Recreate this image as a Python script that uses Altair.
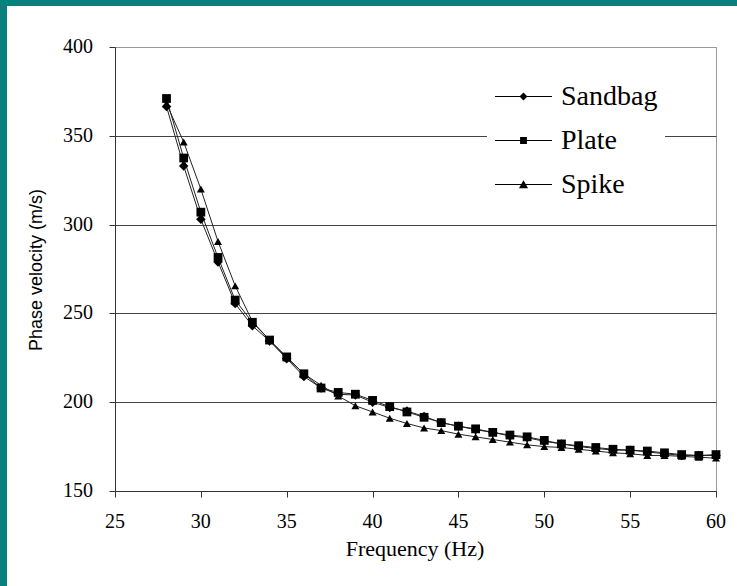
import altair as alt
import pandas as pd

freq = [28, 29, 30, 31, 32, 33, 34, 35, 36, 37, 38, 39, 40, 41, 42, 43, 44,
        45, 46, 47, 48, 49, 50, 51, 52, 53, 54, 55, 56, 57, 58, 59, 60]
sandbag = [366.5, 333, 303, 279, 255.5, 243, 234.5, 224.5, 214.5, 208, 204.5, 204, 200,
           197, 195, 192, 188.5, 186.5, 184.5, 183, 181, 180, 178, 176.5, 175, 174,
           173, 173, 172, 171, 170, 170, 170]
plate = [371, 337.5, 307, 281.5, 257.5, 245, 235, 225.5, 216, 208, 205.5, 204.5, 201,
         197.5, 194.5, 191.5, 188.5, 186.5, 185, 183, 181.5, 180.5, 178.5, 176.5, 175.5,
         174.5, 173.5, 173, 172.5, 171.5, 170.5, 170, 170.5]
spike = [368, 346.5, 320, 290.5, 265.5, 245.5, 235, 225, 216, 209.5, 203.5, 198, 194.5,
         191, 188, 185.5, 184, 182, 180.5, 179, 177.5, 176, 175, 174.5, 173.5, 172.5,
         171.5, 171, 170, 170, 169.5, 169, 168.5]
series = ["Sandbag", "Plate", "Spike"]
x_ticks = [25, 30, 35, 40, 45, 50, 55, 60]
y_ticks = [150, 200, 250, 300, 350, 400]
x_title = "Frequency (Hz)"
y_title = "Phase velocity (m/s)"

rows = []
for name, vals in zip(series, [sandbag, plate, spike]):
    for f, v in zip(freq, vals):
        rows.append({"freq": f, "vel": v, "series": name})
df = pd.DataFrame(rows)
xt = pd.DataFrame({"freq": x_ticks, "lab": [str(v) for v in x_ticks]})
yt = pd.DataFrame({"vel": y_ticks, "lab": [str(v) for v in y_ticks]})

SERIF = "'Liberation Serif', 'Times New Roman', Times, serif"
SANS = "'Liberation Sans', Arial, sans-serif"

xscale = alt.Scale(domain=[25, 60], nice=False, zero=False)
yscale = alt.Scale(domain=[150, 400], nice=False, zero=False)

x = alt.X("freq:Q", scale=xscale,
          axis=alt.Axis(values=x_ticks, title=None, grid=False, labels=False))
y = alt.Y("vel:Q", scale=yscale,
          axis=alt.Axis(values=y_ticks, title=None, grid=True, labels=False,
                        gridColor={"condition": {"test": "datum.value == 400", "value": "#999999"},
                                   "value": "#444444"}))

lines = alt.Chart(df).mark_line(color="#222222", strokeWidth=1).encode(
    x=x, y=y, detail="series:N")

points = alt.Chart(df).mark_point(filled=True, color="black", opacity=1).encode(
    x=x, y=y,
    shape=alt.Shape("series:N", scale=alt.Scale(domain=series,
                                                 range=["diamond", "square", "triangle-up"]),
                    legend=None),
    size=alt.Size("series:N", scale=alt.Scale(domain=series, range=[90, 64, 90]), legend=None),
)

legend_paths = [
    "M-1,-0.018L1,-0.018L1,0.018L-1,0.018ZM-0.14,0L0,-0.14L0.14,0L0,0.14Z",
    "M-1,-0.018L1,-0.018L1,0.018L-1,0.018ZM-0.12,-0.12L0.12,-0.12L0.12,0.12L-0.12,0.12Z",
    "M-1,-0.018L1,-0.018L1,0.018L-1,0.018ZM-0.16,0.13L0,-0.15L0.16,0.13Z",
]
legend_layer = alt.Chart(df).transform_filter("datum.freq < 0").mark_point(
    filled=True, color="black", opacity=1, size=3249
).encode(
    x=x, y=y,
    shape=alt.Shape("series:N", scale=alt.Scale(domain=series, range=legend_paths),
                    legend=alt.Legend(title=None, orient="none", legendX=372, legendY=13,
                                      fillColor="white", padding=7, symbolSize=3249,
                                      symbolFillColor="black", labelFont=SERIF,
                                      labelFontSize=28, labelColor="black", labelOffset=8,
                                      rowPadding=-9, labelLimit=300)),
)

x_labels = alt.Chart(xt).mark_text(
    font=SERIF, fontSize=20, color="black", align="center", baseline="middle"
).encode(x=alt.X("freq:Q", scale=xscale), y=alt.value(475), text="lab:N")
y_labels = alt.Chart(yt).mark_text(
    font=SERIF, fontSize=20, color="black", align="right", baseline="middle"
).encode(x=alt.value(-22), y=alt.Y("vel:Q", scale=yscale), text="lab:N")

one = alt.Data(values=[{"k": 1}])
x_title_mark = alt.Chart(one).mark_text(
    font=SERIF, fontSize=22, color="black", align="center", baseline="middle",
    text=x_title
).encode(x=alt.value(300), y=alt.value(502))
y_title_mark = alt.Chart(one).mark_text(
    font=SANS, fontSize=18, color="black", align="center", baseline="middle",
    angle=270, text=y_title
).encode(x=alt.value(-78), y=alt.value(223))

teal = "#0a807c"
left_strip = alt.Chart(one).mark_rect(color=teal).encode(
    x=alt.value(-115), x2=alt.value(-108), y=alt.value(-47), y2=alt.value(539))
top_strip = alt.Chart(one).mark_rect(color=teal).encode(
    x=alt.value(-115), x2=alt.value(622), y=alt.value(-47), y2=alt.value(-41))

chart = alt.layer(lines, points, legend_layer, x_labels, y_labels,
                  x_title_mark, y_title_mark, left_strip, top_strip).resolve_scale(
    shape="independent", size="independent"
).properties(
    width=601, height=444,
    autosize=alt.AutoSizeParams(type="none"),
    padding={"left": 115, "top": 47, "right": 21, "bottom": 95},
    background="white",
).configure_view(
    stroke="#999999", strokeWidth=1
).configure_axis(
    tickSize=6, tickColor="#333333", domainColor="#333333", gridOpacity=1,
)

chart.save("out.html", embed_options={"renderer": "svg", "actions": False})
